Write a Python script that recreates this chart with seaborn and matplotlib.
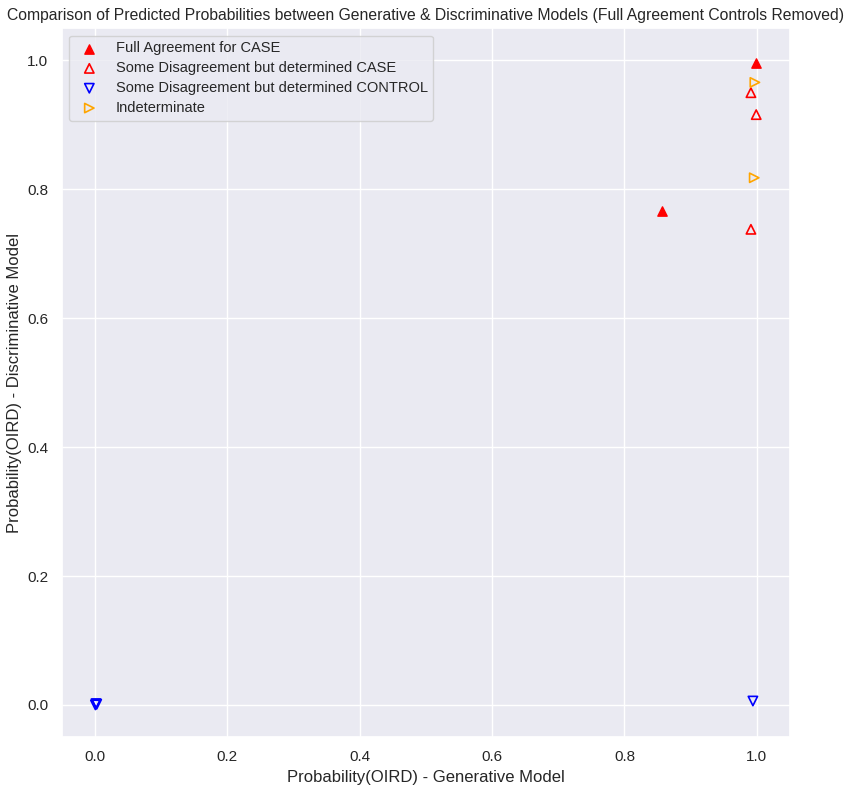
import numpy as np
import pandas as pd
import seaborn as sns
import matplotlib
matplotlib.use("Agg")
import matplotlib.pyplot as plt

# predicted probabilities
full_case_gen = [0.999, 0.856]
full_case_disc = [0.996, 0.766]

dis_case_gen = [0.991, 0.999, 0.991]
dis_case_disc = [0.950, 0.916, 0.738]

dis_control_gen = [0.994, 0.001, 0.003, 0.002]
dis_control_disc = [0.006, 0.000, 0.001, 0.002]

indet_gen = [0.997, 0.996]
indet_disc = [0.966, 0.818]

groups = [
    ("Full Agreement for CASE", full_case_gen, full_case_disc, "^", "red", True),
    ("Some Disagreement but determined CASE", dis_case_gen, dis_case_disc, "^", "red", False),
    ("Some Disagreement but determined CONTROL", dis_control_gen, dis_control_disc, "v", "blue", False),
    ("Indeterminate", indet_gen, indet_disc, ">", "orange", False),
]

sns.set_theme(style="darkgrid")
plt.rcParams['font.family'] = ['Arial', 'Liberation Sans', 'DejaVu Sans']

fig, ax = plt.subplots(figsize=(8.44, 7.85), dpi=100)
fig.subplots_adjust(left=0.073, right=0.936, bottom=0.061, top=0.964)

for label, gen, disc, marker, color, filled in groups:
    df = pd.DataFrame({'gen': gen, 'disc': disc})
    if filled:
        sns.scatterplot(data=df, x='gen', y='disc', marker=marker, color=color,
                        edgecolor=color, s=45, linewidth=1, label=label, ax=ax)
    else:
        sns.scatterplot(data=df, x='gen', y='disc', marker=marker, facecolor='none',
                        edgecolor=color, s=45, linewidth=1.2, label=label, ax=ax)

ax.set_xlim(-0.05, 1.05)
ax.set_ylim(-0.05, 1.05)
ax.set_xticks([0.0, 0.2, 0.4, 0.6, 0.8, 1.0])
ax.set_yticks([0.0, 0.2, 0.4, 0.6, 0.8, 1.0])
ax.set_title('Comparison of Predicted Probabilities between Generative & Discriminative Models (Full Agreement Controls Removed)',
             fontsize=11.3)
ax.set_xlabel('Probability(OIRD) - Generative Model', fontsize=12)
ax.set_ylabel('Probability(OIRD) - Discriminative Model', fontsize=12)
ax.legend(loc='upper left', fontsize=10.5, labelspacing=0.4)

plt.savefig('out.png', dpi=100)
